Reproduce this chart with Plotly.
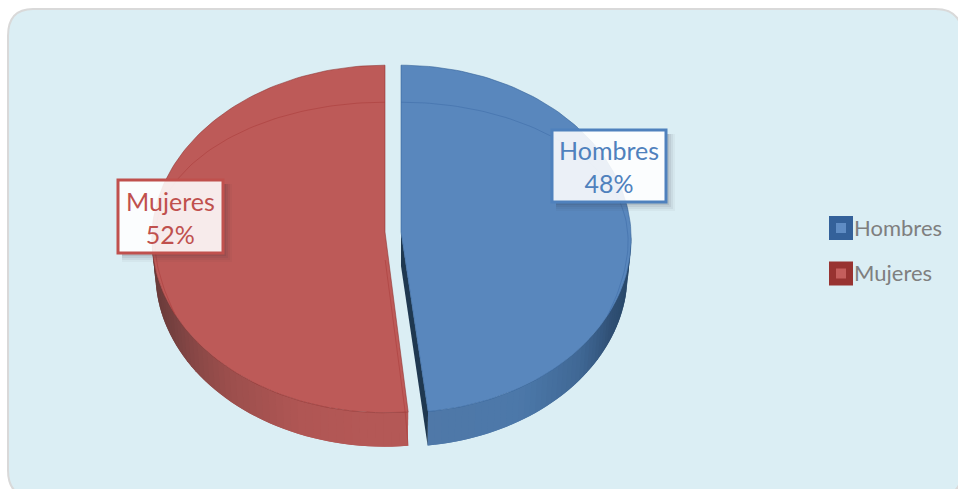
import math
import plotly.graph_objects as go

# ---- data ----
categories = ["Hombres", "Mujeres"]
values = [48.2, 51.8]
shown_percent = [48, 52]

# ---- styles / geometry constants (pixels of the 958x489 canvas) ----
W, H = 958, 489
FONT = "Lato"
TOP = ["#5987bd", "#bd5a58"]
EDGE = ["rgba(50,95,150,0.55)", "rgba(140,50,48,0.55)"]
BEVEL = ["rgba(60,105,165,0.5)", "rgba(170,60,58,0.55)"]
LABEL = ["#4f81bd", "#c0504d"]
LEG_IN = ["#5f8cc4", "#c45e5c"]
LEG_OUT = ["#34619a", "#983331"]
WALL_STOPS = [
    [(90, "#22405f"), (115, "#2f4f74"), (130, "#3f6794"), (150, "#4c78a9"), (175, "#4f78a8")],
    [(270, "#5e3635"), (245, "#75403f"), (222, "#9a4e4c"), (200, "#b05654"), (185, "#b45856")],
]
CX = [401, 385]
CY = [232, 232]
RX = [230, 233]
RY = 173.5
PERSP = 0.04
DEPTH = 34
BOTTOM_SHRINK = 0.985
CUT_TRIM = 1.0        # degrees left between the two slices at the front
LEGEND_X = 841
LEGEND_Y = [228, 273.5]
LEGEND_TEXT_DY = 2


def rim(i, t_deg, xs=1.0, ys=1.0):
    t = math.radians(t_deg)
    u, v = math.sin(t), math.cos(t)
    f = 1 / (1 + PERSP * v)
    return CX[i] + RX[i] * u * f * xs, CY[i] - RY * v * f * ys


def drop(i, p):
    return CX[i] + (p[0] - CX[i]) * BOTTOM_SHRINK, p[1] + DEPTH


def mix(stops, t):
    pts = sorted(stops)
    if t <= pts[0][0]:
        return pts[0][1]
    for (a, ca), (b, cb) in zip(pts, pts[1:]):
        if t <= b:
            k = (t - a) / (b - a)
            ra = [int(ca[j:j + 2], 16) for j in (1, 3, 5)]
            rb = [int(cb[j:j + 2], 16) for j in (1, 3, 5)]
            return "#%02x%02x%02x" % tuple(round(x + (y - x) * k) for x, y in zip(ra, rb))
    return pts[-1][1]


def frange(a, b, n):
    return [a + (b - a) * k / n for k in range(n + 1)]


fig = go.Figure()


def poly(pts, fill):
    fig.add_trace(go.Scatter(x=[p[0] for p in pts] + [pts[0][0]], y=[p[1] for p in pts] + [pts[0][1]],
                             mode="lines", fill="toself", fillcolor=fill, line=dict(width=0),
                             hoverinfo="skip", showlegend=False))


def line(pts, color, width=1.0):
    fig.add_trace(go.Scatter(x=[p[0] for p in pts], y=[p[1] for p in pts], mode="lines",
                             line=dict(width=width, color=color), hoverinfo="skip", showlegend=False))


blue_end = values[0] / sum(values) * 360
spans = [(0.0, blue_end), (blue_end + CUT_TRIM, 360.0)]

# side walls: each strip runs on under the next so that no seams show
for i, (a, b) in enumerate(spans):
    wa, wb = (90.0, b) if i == 0 else (270.0, a)
    seq = frange(wa, wb, 50)
    for k in range(len(seq) - 1):
        t0 = seq[k]
        t2 = seq[min(k + 2, len(seq) - 1)]
        seg = frange(t0, t2, 3)
        top = [rim(i, t) for t in seg]
        poly(top + [drop(i, p) for p in reversed(top)], mix(WALL_STOPS[i], (seq[k] + seq[k + 1]) / 2))

# visible cut face of the blue slice
apex = (CX[0], CY[0])
r_end = rim(0, spans[0][1])
poly([apex, r_end, drop(0, r_end), (CX[0], CY[0] + DEPTH)], "#1f3850")

# top faces
for i, (a, b) in enumerate(spans):
    arc = [rim(i, t) for t in frange(a, b, 120)]
    pts = [(CX[i], CY[i])] + arc
    fig.add_trace(go.Scatter(x=[p[0] for p in pts] + [pts[0][0]], y=[p[1] for p in pts] + [pts[0][1]],
                             mode="lines", fill="toself", fillcolor=TOP[i],
                             line=dict(width=1, color=EDGE[i]), hoverinfo="skip", showlegend=False))

# bevel arcs on the top faces
for i in (0, 1):
    ts = frange(0, 90, 60)
    arc = [rim(i, (t if i == 0 else 360 - t), 0.985, 0.778) for t in ts]
    ts2 = frange(90, 118, 20)
    arc += [rim(i, (t if i == 0 else 360 - t), 0.985 + 0.015 * (t - 90) / 28, 0.778 + 0.222 * (t - 90) / 28) for t in ts2]
    line(arc, BEVEL[i])

# faint bevel along the red front cut
r_red = rim(1, spans[1][0])
line([(CX[1] + 0.2, CY[1] + 28), (r_red[0] - 3, r_red[1])], BEVEL[1])
line([(r_red[0] - 3, r_red[1]), (r_red[0], r_red[1] + DEPTH)], BEVEL[1])

# legend: swatch and name for each category
for i, name in enumerate(categories):
    fig.add_trace(go.Scatter(x=[LEGEND_X], y=[LEGEND_Y[i]], mode="markers", name=name,
                             marker=dict(symbol="square", size=17, color=LEG_IN[i],
                                         line=dict(width=7, color=LEG_OUT[i])),
                             hoverinfo="skip", showlegend=False))
    fig.add_trace(go.Scatter(x=[LEGEND_X + 13], y=[LEGEND_Y[i] + LEGEND_TEXT_DY], mode="text", text=[name],
                             textposition="middle right", cliponaxis=False,
                             textfont=dict(family=FONT, size=22, color="#7f7f7f"),
                             hoverinfo="skip", showlegend=False))

shapes = [
    dict(type="path", layer="below",
         path="M 33 9 L 935 9 Q 962 9 962 36 L 962 470 Q 962 497 935 497 L 33 497 Q 8 497 8 470 L 8 36 Q 8 9 33 9 Z",
         fillcolor="#dbeef4", line=dict(color="#d9d9d9", width=2)),
]
annotations = []
boxes = [(552, 130, 666, 202), (118, 180, 223, 253)]
for i, (x0, y0, x1, y1) in enumerate(boxes):
    for k, alpha in zip((9, 7, 5, 3), (0.04, 0.06, 0.08, 0.10)):
        shapes.append(dict(type="path", layer="above",
                           path=f"M {x1} {y0 + 4} L {x1 + k} {y0 + 4} L {x1 + k} {y1 + k} L {x0 + 4} {y1 + k} L {x0 + 4} {y1} L {x1} {y1} Z",
                           line=dict(width=0), fillcolor=f"rgba(50,50,60,{alpha})"))
    shapes.append(dict(type="rect", layer="above", x0=x0, y0=y0, x1=x1, y1=y1,
                       line=dict(color=LABEL[i], width=3), fillcolor="rgba(255,255,255,0.88)"))
    annotations.append(dict(x=(x0 + x1) / 2, y=(y0 + y1) / 2 + 0.5, xref="x", yref="y", showarrow=False,
                            text=f"{categories[i]}<br>{shown_percent[i]}%",
                            font=dict(family=FONT, size=25, color=LABEL[i]), align="center"))

fig.update_layout(
    width=W, height=H, margin=dict(l=0, r=0, t=0, b=0),
    paper_bgcolor="white", plot_bgcolor="rgba(0,0,0,0)",
    xaxis=dict(range=[0, W], visible=False, fixedrange=True),
    yaxis=dict(range=[H, 0], visible=False, fixedrange=True),
    shapes=shapes, annotations=annotations, showlegend=False,
    hovermode=False,
)
fig.write_html("out.html", config=dict(displayModeBar=False),
               post_script="document.body.style.margin='0';document.body.style.overflow='hidden';")
